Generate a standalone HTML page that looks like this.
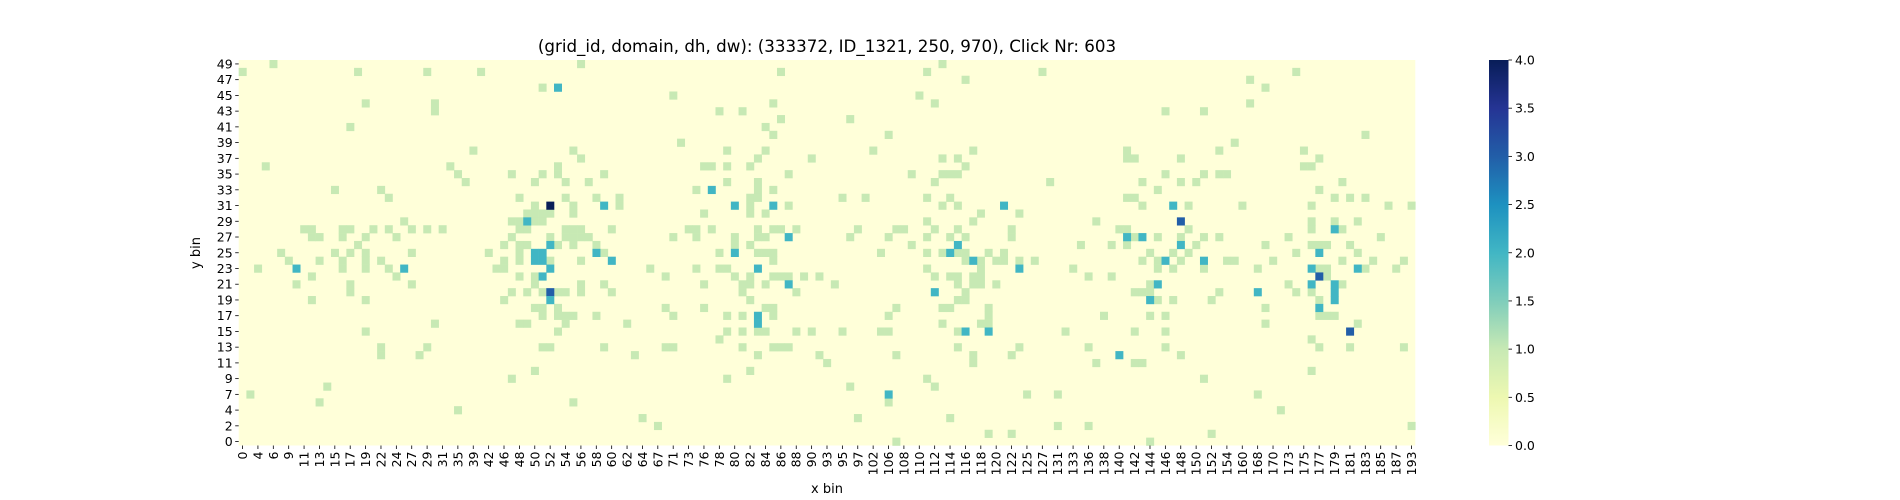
<!DOCTYPE html>
<html>
<head>
<meta charset="utf-8">
<style>
  html, body { margin:0; padding:0; background:#fff; }
  svg { display:block; }
  text { font-family: "DejaVu Sans", "Liberation Sans", sans-serif; fill:#000; }
</style>
</head>
<body>
<svg id="chart" width="1900" height="500" viewBox="0 0 1900 500" xmlns="http://www.w3.org/2000/svg">
  <defs>
    <linearGradient id="cbar" x1="0" y1="1" x2="0" y2="0">
      <stop offset="0" stop-color="#ffffd9"/>
      <stop offset="0.125" stop-color="#edf8b1"/>
      <stop offset="0.25" stop-color="#c7e9b4"/>
      <stop offset="0.375" stop-color="#7fcdbb"/>
      <stop offset="0.5" stop-color="#41b6c4"/>
      <stop offset="0.625" stop-color="#1d91c0"/>
      <stop offset="0.75" stop-color="#225ea8"/>
      <stop offset="0.875" stop-color="#253494"/>
      <stop offset="1" stop-color="#081d58"/>
    </linearGradient>
  </defs>
  <text x="827" y="52" font-size="16.7" text-anchor="middle">(grid_id, domain, dh, dw): (333372, ID_1321, 250, 970), Click Nr: 603</text>
  <g id="plot"></g>
  <g id="xaxis"></g>
  <g id="yaxis"></g>
  <text x="827" y="493" font-size="13" text-anchor="middle">x bin</text>
  <text x="0" y="0" font-size="13" text-anchor="middle" transform="translate(200,253) rotate(-90)">y bin</text>
  <rect x="1489" y="60" width="19.5" height="385.5" fill="url(#cbar)"/>
  <g id="cbaxis"></g>
</svg>
<script>
// ---- data ----
const xTickLabels = [0,4,6,9,11,13,15,17,19,22,24,27,29,31,35,39,42,46,48,50,52,54,56,58,60,62,64,67,71,73,76,78,80,82,84,86,88,90,93,95,97,102,106,108,110,112,114,116,118,120,122,125,127,131,133,136,138,140,142,144,146,148,150,152,154,160,168,170,173,175,177,179,181,183,185,187,193];
const yTickLabels = [49,47,45,43,41,39,37,35,33,31,29,27,25,23,21,19,17,15,13,11,9,7,4,2,0];
const colorbarTicks = [0.0,0.5,1.0,1.5,2.0,2.5,3.0,3.5,4.0];
// rows (top index) and the column indices holding value 1
const rowIdx = [0,1,2,3,4,5,6,7,8,9,10,11,12,13,14,15,16,17,18,19,20,21,22,23,24,25,26,27,28,29,30,31,32,33,34,35,36,37,38,39,40,41,42,43,44,45,46,47,48];
const rowOnes = [
[4,44,91],
[0,15,24,31,70,89,104,137],
[94,131],
[39,133],
[56,88],
[16,25,69,90,131],
[25,62,65,120,125],
[70,79],
[14,68],
[69,84,146],
[57,129],
[30,43,63,68,82,95,115,127,138],
[44,67,74,91,93,115,116,122,140],
[3,27,41,60,61,63,66,94,138,139],
[28,35,39,41,47,71,87,91,92,93,120,125,127,128],
[29,38,42,45,63,67,90,105,117,122,124,143],
[12,18,59,67,69,119,140],
[19,36,42,46,49,66,67,78,81,89,92,115,116,142,144,146],
[38,43,49,66,71,91,93,117,123,130,139,149,152],
[37,38,39,40,43,60,66,68,96,101],
[21,35,36,38,39,89,95,111,139,142,145],
[8,9,13,14,17,19,22,24,26,36,37,42,43,44,48,58,59,61,67,69,70,72,80,85,86,90,93,100,114,115,123,139,143],
[9,10,13,16,20,35,40,42,43,44,45,56,59,64,67,68,79,84,89,92,94,100,116,119,122,125,127,136,148],
[15,34,36,37,41,43,46,64,66,87,109,113,115,124,133,139,140,141,144],
[5,12,14,16,22,32,36,47,62,67,68,69,83,89,91,93,94,97,99,118,121,123,137,145],
[6,10,13,16,18,34,36,40,44,69,94,96,98,99,101,103,117,119,122,128,129,134,143,147,151],
[2,13,16,19,33,34,53,59,62,63,89,96,108,119,121,125,132,140,141,146,150],
[9,20,36,38,55,64,66,69,70,71,73,75,90,92,93,95,96,110,113,141],
[7,14,22,38,44,47,60,65,66,68,77,93,95,96,98,118,136,143],
[14,35,37,39,41,42,44,48,65,72,94,116,117,118,127,137,139],
[9,16,34,66,93,94,119,121,126,140],
[38,39,41,55,60,68,69,85,91,92,97,133],
[39,41,42,43,46,56,63,65,69,84,97,112,118,120,140,141,142],
[25,36,37,42,50,91,96,97,133,145],
[16,41,63,65,67,68,72,74,78,83,84,93,107,116,120],
[62,139],
[18,24,39,40,47,55,56,65,69,70,71,93,101,110,120,140,144,151],
[18,23,51,67,75,85,95,100,122],
[76,95,111,116,117],
[38,66,139],
[35,63,89,125],
[11,79,90],
[1,102,106,132],
[10,43,84],
[28,135],
[52,80,92],
[54,106,110,152],
[97,100,126],
[85,118]
];
// cells with values > 1
const hiCol = [41,61,40,47,64,69,99,121,37,122,142,71,115,117,40,93,122,38,39,46,64,92,140,38,39,48,95,120,125,7,21,40,67,101,139,145,39,140,71,119,139,142,40,90,132,142,40,118,142,140,67,67,94,97,144,114,84];
const hiRow = [3,16,18,18,18,18,18,18,20,20,21,22,22,22,23,23,23,24,24,24,24,24,24,25,25,25,25,25,25,26,26,26,26,26,26,26,27,27,28,28,28,28,29,29,29,29,30,30,30,31,32,33,34,34,34,37,42];
const hiVal = [2,2,4,2,2,2,2,2,2,3,2,2,2,2,2,2,2,2,2,2,2,2,2,2,2,2,2,2,2,2,2,2,2,2,2,2,2,3,2,2,2,2,3,2,2,2,2,2,2,2,2,2,2,2,3,2,2];

// ---- layout ----
const NCOLS = 153, NROWS = 49;
const X0 = 238.7, X1 = 1415.3, Y0 = 60, Y1 = 445.5;
const cw = (X1 - X0) / NCOLS, ch = (Y1 - Y0) / NROWS;
const xPos = c => X0 + c * cw;
const yPos = r => Y0 + r * ch;
const VMAX = 4;
const stops = ['#ffffd9','#edf8b1','#c7e9b4','#7fcdbb','#41b6c4','#1d91c0','#225ea8','#253494','#081d58'];
function hex(h){return [1,3,5].map(i=>parseInt(h.substr(i,2),16));}
function color(v){
  let t = Math.max(0, Math.min(1, v / VMAX)) * (stops.length - 1);
  let i = Math.min(stops.length - 2, Math.floor(t)), f = t - i;
  let a = hex(stops[i]), b = hex(stops[i+1]);
  return 'rgb(' + a.map((x,k)=>Math.round(x + (b[k]-x)*f)).join(',') + ')';
}
const NS = 'http://www.w3.org/2000/svg';
function mk(tag, attrs, parent){
  const e = document.createElementNS(NS, tag);
  for (const k in attrs) e.setAttribute(k, attrs[k]);
  parent.appendChild(e);
  return e;
}
const plot = document.getElementById('plot');
const bg = mk('rect', {x:X0, y:Y0, width:X1-X0, height:Y1-Y0, fill:color(0)}, plot);



function cell(c, r, v){
  const e = mk('rect', {x:xPos(c).toFixed(2), y:yPos(r).toFixed(2), width:(cw+0.3).toFixed(2), height:(ch+0.3).toFixed(2), fill:color(v)}, plot);
  
  
}
rowIdx.forEach((r, i) => rowOnes[i].forEach(c => cell(c, r, 1)));
hiCol.forEach((c, i) => cell(c, hiRow[i], hiVal[i]));

// x axis
const xa = document.getElementById('xaxis');
xTickLabels.forEach((lab, i) => {
  const cx = xPos(i * 2 + 0.5);
  const t = mk('line', {x1:cx, x2:cx, y1:Y1, y2:Y1+3.5, stroke:'#000', 'stroke-width':0.8}, xa);
  
  
  const tx = mk('text', {x:0, y:0, 'font-size':12.5, 'text-anchor':'end', transform:'translate(' + (cx+4.5).toFixed(2) + ',' + (Y1+6) + ') rotate(-90)'}, xa);
  tx.textContent = lab;
  
  
});
// y axis
const ya = document.getElementById('yaxis');
yTickLabels.forEach((lab, i) => {
  const cy = yPos(i * 2 + 0.5);
  const t = mk('line', {x1:X0-3.5, x2:X0, y1:cy, y2:cy, stroke:'#000', 'stroke-width':0.8}, ya);
  
  
  const tx = mk('text', {x:X0-6, y:cy+4.5, 'font-size':12.5, 'text-anchor':'end'}, ya);
  tx.textContent = lab;
  
  
});
// colorbar axis
const cb = document.getElementById('cbaxis');
const CB_X = 1508.5, CB_Y0 = 445.5, CB_Y1 = 60;
colorbarTicks.forEach(v => {
  const y = CB_Y0 + (CB_Y1 - CB_Y0) * v / VMAX;
  const t = mk('line', {x1:CB_X, x2:CB_X+3.5, y1:y, y2:y, stroke:'#000', 'stroke-width':0.8}, cb);
  
  
  const tx = mk('text', {x:CB_X+6.5, y:y+4.5, 'font-size':12.5}, cb);
  tx.textContent = v.toFixed(1);
  
  
});
</script>
</body>
</html>
